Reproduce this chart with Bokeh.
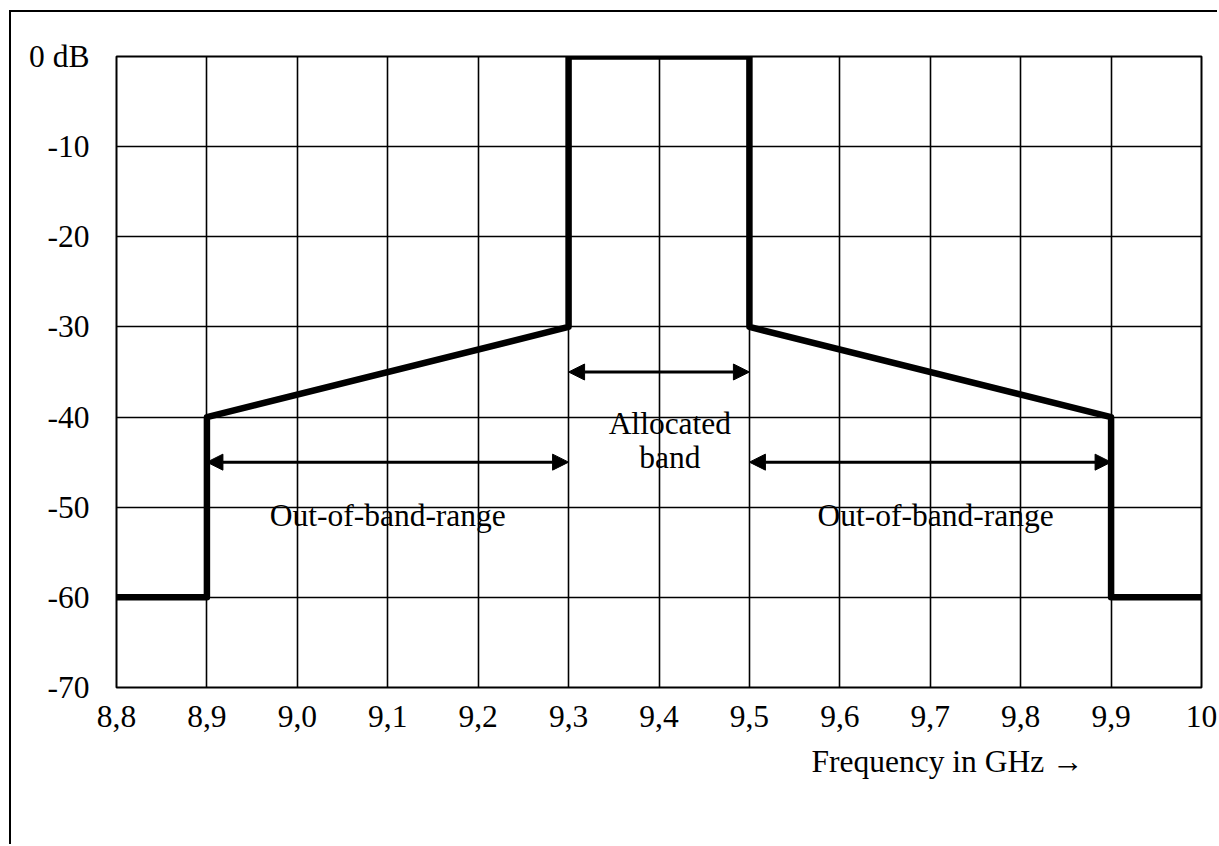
from bokeh.plotting import figure
from bokeh.models import FixedTicker, Label, Arrow, NormalHead, Range1d, Title
from bokeh.embed import file_html
from bokeh.resources import INLINE

# ---- data ----
freq = [8.8, 8.9, 8.9, 9.3, 9.3, 9.5, 9.5, 9.9, 9.9, 10.0]
level_db = [-60, -60, -40, -30, 0, 0, -30, -40, -60, -60]

x_ticks = [8.8, 8.9, 9.0, 9.1, 9.2, 9.3, 9.4, 9.5, 9.6, 9.7, 9.8, 9.9, 10.0]
x_tick_labels = ["8,8", "8,9", "9,0", "9,1", "9,2", "9,3", "9,4", "9,5",
                 "9,6", "9,7", "9,8", "9,9", "10"]
y_ticks = [0, -10, -20, -30, -40, -50, -60, -70]
y_tick_labels = ["0 dB", "-10", "-20", "-30", "-40", "-50", "-60", "-70"]

# annotation ranges (GHz) and texts
allocated_band = [9.3, 9.5]
oob_left = [8.9, 9.3]
oob_right = [9.5, 9.9]
allocated_arrow_db = -35
oob_arrow_db = -45
allocated_lines = ["Allocated", "band"]
oob_text = "Out-of-band-range"
x_title = "Frequency in GHz \u2192"

FONT = "Liberation Serif"
FS = "31.5px"

p = figure(width=1208, height=834, output_backend="svg", toolbar_location=None,
           x_range=Range1d(8.8, 10.0), y_range=Range1d(-70, 0),
           min_border_left=105, min_border_top=44, min_border_right=18,
           min_border_bottom=159)
# outer page frame: left and top edges
p.styles = {"margin-left": "9px", "margin-top": "10px",
            "border-left": "2px solid black", "border-top": "2px solid black"}
p.background_fill_color = "white"
p.border_fill_color = "white"
p.outline_line_color = "black"
p.outline_line_width = 2

for ax in (p.xaxis[0], p.yaxis[0]):
    ax.axis_line_color = None
    ax.major_tick_line_color = None
    ax.minor_tick_line_color = None
    ax.major_label_text_font = FONT
    ax.major_label_text_font_size = FS
    ax.major_label_text_color = "black"

p.xaxis[0].ticker = FixedTicker(ticks=x_ticks)
p.xaxis[0].major_label_overrides = {t: l for t, l in zip(x_ticks, x_tick_labels)}
p.xaxis[0].major_label_standoff = 12
p.yaxis[0].ticker = FixedTicker(ticks=y_ticks)
p.yaxis[0].major_label_overrides = {t: l for t, l in zip(y_ticks, y_tick_labels)}
p.yaxis[0].major_label_standoff = 21

p.xgrid[0].ticker = FixedTicker(ticks=x_ticks)
p.ygrid[0].ticker = FixedTicker(ticks=y_ticks)
for g in (p.xgrid[0], p.ygrid[0]):
    g.grid_line_color = "black"
    g.grid_line_width = 1.6
    g.grid_line_alpha = 1.0

p.line(freq, level_db, line_color="black", line_width=6.5,
       line_join="round", line_cap="round")

def dbl_arrow(x0, x1, y):
    p.add_layout(Arrow(
        x_start=x0, x_end=x1, y_start=y, y_end=y,
        line_color="black", line_width=3,
        start=NormalHead(size=16, fill_color="black", line_color="black", line_width=1),
        end=NormalHead(size=16, fill_color="black", line_color="black", line_width=1)))

dbl_arrow(allocated_band[0], allocated_band[1], allocated_arrow_db)
dbl_arrow(oob_left[0], oob_left[1], oob_arrow_db)
dbl_arrow(oob_right[0], oob_right[1], oob_arrow_db)

ax_c = sum(allocated_band) / 2 + 0.012
p.add_layout(Label(x=ax_c, y=-40.7, text=allocated_lines[0],
                   text_align="center", text_baseline="alphabetic",
                   text_font=FONT, text_font_size=FS, text_color="black"))
p.add_layout(Label(x=ax_c, y=-44.5, text=allocated_lines[1],
                   text_align="center", text_baseline="alphabetic",
                   text_font=FONT, text_font_size=FS, text_color="black"))
p.add_layout(Label(x=sum(oob_left) / 2, y=-50.9, text=oob_text,
                   text_align="center", text_baseline="alphabetic",
                   text_font=FONT, text_font_size=FS, text_color="black"))
p.add_layout(Label(x=sum(oob_right) / 2 + 0.006, y=-50.9, text=oob_text,
                   text_align="center", text_baseline="alphabetic",
                   text_font=FONT, text_font_size=FS, text_color="black"))

p.add_layout(Title(text=x_title, align="right", offset=118, standoff=24,
                   text_font=FONT, text_font_size=FS, text_font_style="normal",
                   text_color="black"), "below")

open("out.html", "w").write(file_html(p, INLINE))
